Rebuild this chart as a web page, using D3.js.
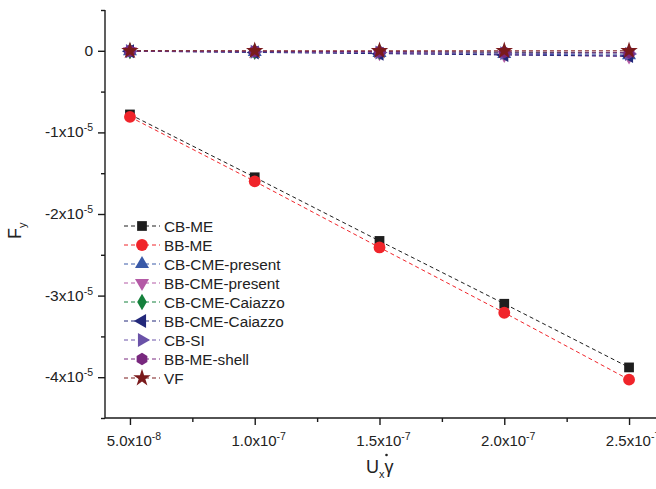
<!DOCTYPE html>
<html>
<head>
<meta charset="utf-8">
<script src="https://cdn.jsdelivr.net/npm/d3@7"></script>
<style>
  html, body { margin: 0; padding: 0; background: #fff; }
  svg { display: block; font-family: "Liberation Sans", Arial, sans-serif; }
</style>
</head>
<body>
<svg id="chart" width="656" height="489"></svg>
<script>
// Shear rate values (x) and lift force F_y for each scheme
const shear = [5e-8, 1e-7, 1.5e-7, 2e-7, 2.5e-7];

const seriesNames = ["CB-ME", "BB-ME", "CB-CME-present", "BB-CME-present",
  "CB-CME-Caiazzo", "BB-CME-Caiazzo", "CB-SI", "BB-ME-shell", "VF"];

const cbME          = [-0.78e-5, -1.55e-5, -2.33e-5, -3.10e-5, -3.88e-5];
const bbME          = [-0.81e-5, -1.60e-5, -2.41e-5, -3.21e-5, -4.03e-5];
const cbCmePresent  = [-0.005e-5, -0.015e-5, -0.025e-5, -0.04e-5, -0.055e-5];
const bbCmePresent  = [-0.005e-5, -0.015e-5, -0.03e-5, -0.05e-5, -0.07e-5];
const cbCmeCaiazzo  = [-0.002e-5, -0.008e-5, -0.012e-5, -0.018e-5, -0.025e-5];
const bbCmeCaiazzo  = [-0.005e-5, -0.02e-5, -0.035e-5, -0.05e-5, -0.065e-5];
const cbSI          = [-0.004e-5, -0.012e-5, -0.02e-5, -0.03e-5, -0.04e-5];
const bbMeShell     = [-0.002e-5, -0.005e-5, -0.01e-5, -0.015e-5, -0.02e-5];
const vf            = [0, 0, 0, 0, 0];

const seriesValues = [cbME, bbME, cbCmePresent, bbCmePresent, cbCmeCaiazzo,
  bbCmeCaiazzo, cbSI, bbMeShell, vf];

const seriesColors = ["#1e1e1e", "#f0242a", "#3a5aa8", "#b45aa6", "#15803c",
  "#22287a", "#6a52a8", "#78287e", "#7a1a1c"];

// Axis ticks and their labels as [mantissa, exponent]
const xTicks = [5e-8, 1e-7, 1.5e-7, 2e-7, 2.5e-7];
const xTickLabels = [["5.0x10", "-8"], ["1.0x10", "-7"], ["1.5x10", "-7"], ["2.0x10", "-7"], ["2.5x10", "-7"]];
const xMinorTicks = [7.5e-8, 1.25e-7, 1.75e-7, 2.25e-7];
const yTicks = [0, -1e-5, -2e-5, -3e-5, -4e-5];
const yTickLabels = [["0", ""], ["-1x10", "-5"], ["-2x10", "-5"], ["-3x10", "-5"], ["-4x10", "-5"]];
const yMinorTicks = [0.5e-5, -0.5e-5, -1.5e-5, -2.5e-5, -3.5e-5, -4.5e-5];

const svg = d3.select("#chart");

const x = d3.scaleLinear().domain([4e-8, 2.6e-7]).range([105, 654]);
const y = d3.scaleLinear().domain([-4.5e-5, 0.5e-5]).range([418, 10]);

// Custom marker shapes
const hexagon = {
  draw(ctx, size) {
    const r = Math.sqrt(size / (1.5 * Math.sqrt(3)));
    for (let i = 0; i < 6; i++) {
      const a = Math.PI / 6 + i * Math.PI / 3;
      const px = r * Math.cos(a), py = r * Math.sin(a);
      if (i === 0) ctx.moveTo(px, py); else ctx.lineTo(px, py);
    }
    ctx.closePath();
  }
};
const markers = [
  { type: d3.symbolSquare, size: 95, rot: 0 },
  { type: d3.symbolCircle, size: 110, rot: 0 },
  { type: d3.symbolTriangle, size: 85, rot: 0 },
  { type: d3.symbolTriangle, size: 85, rot: 180 },
  { type: d3.symbolDiamond, size: 80, rot: 0 },
  { type: d3.symbolTriangle, size: 85, rot: -90 },
  { type: d3.symbolTriangle, size: 85, rot: 90 },
  { type: hexagon, size: 100, rot: 0 },
  { type: d3.symbolStar, size: 95, rot: 0 }
];

const line = d3.line().x(d => x(d[0])).y(d => y(d[1]));

// Series: dashed connecting lines and markers
seriesValues.forEach((vals, i) => {
  const pts = shear.map((s, j) => [s, vals[j]]);
  const g = svg.append("g");
  g.append("path")
    .attr("d", line(pts))
    .attr("fill", "none")
    .attr("stroke", seriesColors[i])
    .attr("stroke-width", 1)
    .attr("stroke-dasharray", "4,3");
  g.selectAll("path.m").data(pts).enter().append("path")
    .attr("class", "m")
    .attr("d", d3.symbol().type(markers[i].type).size(markers[i].size))
    .attr("transform", d => `translate(${x(d[0])},${y(d[1])}) rotate(${markers[i].rot})`)
    .attr("fill", seriesColors[i]);
});

// Axes
const axisColor = "#1a1a1a";
const xAxis = svg.append("g").attr("transform", `translate(0,${y.range()[0]})`);
xAxis.call(d3.axisBottom(x).tickValues(xTicks).tickSize(7).tickFormat(""));
xAxis.append("g").call(d3.axisBottom(x).tickValues(xMinorTicks).tickSize(4).tickFormat(""))
  .select(".domain").remove();
xAxis.selectAll(".domain").attr("d", `M${x.range()[0]},0H${x.range()[1] + 2}`);
xAxis.selectAll("path, line").attr("stroke", axisColor).attr("stroke-width", 1.4);

const yAxis = svg.append("g").attr("transform", `translate(${x.range()[0]},0)`);
yAxis.call(d3.axisLeft(y).tickValues(yTicks).tickSize(7).tickFormat(""));
yAxis.append("g").call(d3.axisLeft(y).tickValues(yMinorTicks).tickSize(4).tickFormat(""))
  .select(".domain").remove();
yAxis.selectAll(".domain").attr("d", `M0,${y.range()[1]}V${y.range()[0]}`);
yAxis.selectAll("path, line").attr("stroke", axisColor).attr("stroke-width", 1.4);

// Tick labels with superscript exponents
function sciLabel(sel, parts) {
  sel.append("tspan").text(parts[0]);
  if (parts[1]) {
    sel.append("tspan").attr("dy", -6).attr("font-size", 10.5).text(parts[1]);
  }
}
xTicks.forEach((v, i) => {
  const t = svg.append("text")
    .attr("x", x(v) + 4).attr("y", 446)
    .attr("text-anchor", "middle")
    .attr("font-size", 15).attr("fill", "#222");
  sciLabel(t, xTickLabels[i]);
});
yTicks.forEach((v, i) => {
  const t = svg.append("text")
    .attr("x", 93).attr("y", y(v) + 5)
    .attr("text-anchor", "end")
    .attr("font-size", 15.5).attr("fill", "#222");
  sciLabel(t, yTickLabels[i]);
});

// Axis titles
const yTitle = svg.append("text")
  .attr("transform", "translate(21,239) rotate(-90)")
  .attr("font-size", 18).attr("fill", "#222");
yTitle.append("tspan").text("F");
yTitle.append("tspan").attr("dy", 5).attr("font-size", 11).text("y");

const xTitle = svg.append("text")
  .attr("x", 366).attr("y", 473)
  .attr("font-size", 18).attr("fill", "#222");
xTitle.append("tspan").text("U");
xTitle.append("tspan").attr("dy", 5).attr("font-size", 11).text("x");
xTitle.append("tspan").attr("dy", -5).text("\u03B3");
// dot above gamma (time derivative)
svg.append("circle")
  .attr("cx", 386.5).attr("cy", 455).attr("r", 1.3).attr("fill", "#222");

// Legend
const legend = svg.append("g");
seriesNames.forEach((name, i) => {
  const ly = 226 + i * 19;
  const row = legend.append("g").attr("transform", `translate(0,${ly})`);
  row.append("line")
    .attr("x1", 124).attr("x2", 160).attr("y1", 0).attr("y2", 0)
    .attr("stroke", seriesColors[i]).attr("stroke-width", 1)
    .attr("stroke-dasharray", "4,3");
  row.append("path")
    .attr("d", d3.symbol().type(markers[i].type).size(markers[i].size))
    .attr("transform", `translate(142,0) rotate(${markers[i].rot})`)
    .attr("fill", seriesColors[i]);
  row.append("text")
    .attr("x", 164).attr("y", 5.5)
    .attr("font-size", 15.3).attr("fill", "#222")
    .text(name);
});
</script>
</body>
</html>
